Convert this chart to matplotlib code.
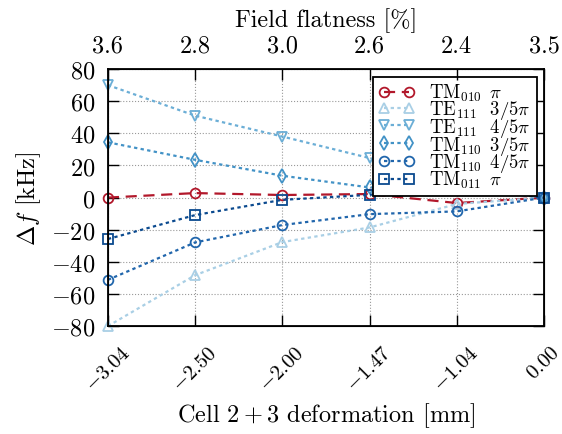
import numpy as np
import matplotlib
matplotlib.use("Agg")
import matplotlib.pyplot as plt

plt.rcParams['font.family'] = 'serif'
plt.rcParams['font.serif'] = ['cmr10']
plt.rcParams['mathtext.fontset'] = 'cm'
plt.rcParams['axes.formatter.use_mathtext'] = True
plt.rcParams['font.size'] = 17.5

deform = ["-3.04", "-2.50", "-2.00", "-1.47", "-1.04", "0.00"]
flatness = ["3.6", "2.8", "3.0", "2.6", "2.4", "3.5"]

tm010_pi = [0.0, 2.8, 1.6, 2.2, -3.4, 0.0]
te111_35 = [-80.0, -48.3, -27.7, -18.6, -4.0, 0.0]
te111_45 = [70.0, 51.0, 38.0, 24.6, 6.5, 0.0]
tm110_35 = [34.4, 23.5, 13.6, 6.3, 7.3, 0.0]
tm110_45 = [-51.2, -27.9, -17.1, -10.3, -8.6, 0.0]
tm011_pi = [-25.8, -10.9, -1.4, 1.7, 6.0, 0.0]

series = [
    (tm010_pi, r"$\mathrm{TM}_{010}\enspace\pi$", "#b2182b", "o", (0, (5, 3))),
    (te111_35, r"$\mathrm{TE}_{111}\enspace\;3/5\pi$", "#a9cfe5", "^", (0, (1.5, 1.5))),
    (te111_45, r"$\mathrm{TE}_{111}\enspace\;4/5\pi$", "#6baed6", "v", (0, (1.5, 1.5))),
    (tm110_35, r"$\mathrm{TM}_{110}\enspace3/5\pi$", "#4292c6", "d", (0, (1.5, 1.5))),
    (tm110_45, r"$\mathrm{TM}_{110}\enspace4/5\pi$", "#2166ac", "o", (0, (1.5, 1.5))),
    (tm011_pi, r"$\mathrm{TM}_{011}\enspace\pi$", "#0b4a8f", "s", (0, (1.5, 1.5))),
]

fig = plt.figure(figsize=(5.62, 4.35), dpi=100)
ax = fig.add_axes([0.192, 0.248, 0.776, 0.591])
x = np.arange(len(deform))
for vals, lb, c, m, ls in series:
    ax.plot(x, vals, color=c, linestyle=ls, marker=m, markersize=7,
            markerfacecolor='none', markeredgewidth=1.3, linewidth=1.6,
            label=lb, clip_on=False)

ax.set_xlim(0, 5)
ax.set_ylim(-80, 80)
ax.set_yticks(np.arange(-80, 81, 20))
ax.set_xticks(x)
ax.set_xticklabels(["$" + d + "$" for d in deform], rotation=45, ha='center',
                   fontsize=15)
ax.grid(True, linestyle=':', color='#999999', linewidth=0.8)
ax.tick_params(direction='in', right=True, length=8, width=1)
ax.tick_params(axis='x', pad=12)
ax.tick_params(axis='y', pad=9)
ax.set_xlabel("Cell $2+3$ deformation [mm]", labelpad=4)
ax.set_ylabel(r"$\Delta f$ [kHz]", labelpad=6)
for s in ax.spines.values():
    s.set_linewidth(1.3)

ax2 = ax.twiny()
ax2.set_xlim(ax.get_xlim())
ax2.set_xticks(x)
ax2.set_xticklabels(flatness)
ax2.tick_params(direction='in', length=8, width=1, pad=9)
ax2.set_xlabel("Field flatness [%]", labelpad=6)

leg = ax.legend(loc='upper right', numpoints=2, fancybox=False, framealpha=1,
                edgecolor='black', fontsize=13.5, handlelength=1.9,
                labelspacing=-0.28, borderpad=0.3, handletextpad=0.8,
                borderaxespad=0.4)
leg.get_frame().set_linewidth(1.3)

fig.savefig("out.png", dpi=100)
